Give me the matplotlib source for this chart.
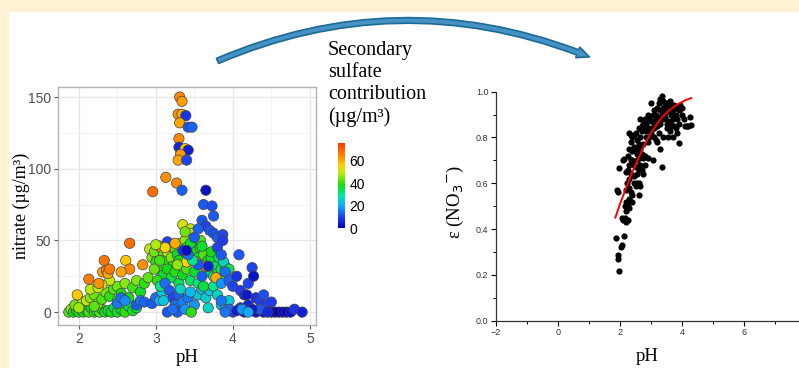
import matplotlib.pyplot as plt
import numpy as np
from matplotlib.patches import Rectangle, FancyArrowPatch
from matplotlib.colors import LinearSegmentedColormap
from matplotlib.ticker import MultipleLocator

# left panel: pH, nitrate (ug/m3), secondary sulfate contribution (ug/m3)
left_pts = [
    # low pH, near zero, green / yellow-green
    (1.87, 0, 42), (1.90, 2, 46), (1.93, 0, 38), (1.97, 1, 40), (2.00, 0, 37), (2.03, 2, 44),
    (2.06, 0, 39), (2.10, 1, 36), (2.13, 0, 41), (2.16, 3, 38), (2.20, 0, 40), (2.23, 1, 35),
    (2.27, 0, 42), (2.30, 2, 37), (2.34, 0, 39), (2.38, 1, 36), (2.42, 0, 38), (2.46, 3, 34),
    (2.50, 0, 36), (2.55, 2, 38), (2.60, 0, 40), (2.65, 4, 34), (2.70, 1, 37), (2.75, 3, 35),
    (1.95, 5, 44), (2.05, 7, 48), (2.10, 8, 50), (2.15, 10, 46), (2.20, 12, 44), (2.25, 6, 47),
    (2.30, 9, 42), (2.35, 14, 45), (2.40, 11, 40), (2.45, 16, 42), (2.50, 18, 44), (2.55, 13, 39),
    (2.60, 20, 46), (2.65, 10, 38), (2.70, 17, 41), (2.75, 22, 45), (2.80, 14, 37), (2.85, 20, 40),
    (2.90, 24, 43), (2.40, 22, 50), (2.30, 19, 52), (2.50, 8, 36), (2.20, 4, 43), (2.00, 3, 47),
    (2.15, 16, 49), (2.25, 17, 50),
    # orange points, low pH
    (1.98, 12, 57), (2.13, 23, 66), (2.26, 20, 63), (2.31, 28, 62), (2.36, 29, 65), (2.38, 27, 60),
    (2.33, 36, 67), (2.61, 36, 57), (2.66, 30, 64), (2.66, 48, 68), (2.83, 33, 63), (2.55, 28, 61),
    (2.40, 30, 66),
    # blue points, lower middle
    (2.50, 6, 15), (2.55, 10, 14), (2.60, 8, 17), (2.75, 5, 12), (2.80, 8, 15), (2.85, 7, 13),
    (2.95, 6, 12), (3.00, 10, 14), (3.05, 8, 20), (3.08, 14, 24),
    # central mixed cluster
    (2.92, 44, 50), (2.95, 38, 46), (2.98, 42, 44), (3.00, 35, 40), (3.02, 30, 38), (3.05, 46, 62),
    (3.08, 44, 64), (3.10, 40, 42), (3.12, 36, 40), (3.15, 42, 52), (3.18, 46, 58), (3.20, 38, 45),
    (3.22, 32, 40), (3.25, 44, 42), (3.28, 40, 36), (3.30, 36, 38), (3.32, 48, 48), (3.35, 61, 52),
    (3.38, 50, 46), (3.40, 45, 40), (3.42, 40, 37), (3.45, 58, 50), (3.48, 55, 52), (3.50, 48, 44),
    (3.52, 42, 38), (3.55, 38, 35), (3.58, 45, 40), (3.60, 34, 30), (3.62, 40, 42), (3.65, 30, 28),
    (3.68, 36, 38), (3.70, 28, 32), (3.72, 38, 36), (3.75, 25, 30), (3.78, 32, 34), (3.80, 27, 38),
    (3.85, 30, 32), (3.88, 22, 28), (3.90, 32, 36), (3.10, 26, 36), (3.15, 30, 38), (3.20, 24, 35),
    (3.25, 28, 39), (3.30, 20, 34), (3.35, 26, 37), (3.40, 30, 42), (3.45, 22, 33), (3.50, 28, 36),
    (3.55, 20, 31), (3.02, 22, 40), (3.06, 18, 30), (3.12, 20, 14), (3.18, 15, 12), (3.22, 10, 10),
    (3.25, 5, 14), (3.28, 0, 12), (3.30, 12, 13), (3.35, 7, 16), (3.38, 2, 18), (3.42, 10, 15),
    (3.50, 5, 18), (3.55, 12, 24), (3.60, 16, 22), (3.65, 10, 25), (3.10, 8, 24), (3.15, 0, 12),
    (3.22, 2, 14), (3.32, 16, 26), (3.45, 14, 22), (3.46, 0, 40), (3.70, 15, 24), (3.75, 18, 30),
    (3.80, 12, 26), (3.85, 5, 22), (3.90, 2, 20), (3.95, 8, 24), (3.68, 3, 26), (3.60, 25, 12),
    (3.62, 18, 35), (3.52, 35, 60), (3.65, 32, 62), (3.78, 24, 60), (3.40, 35, 56), (3.35, 43, 8),
    (3.68, 32, 5), (3.55, 33, 12), (3.48, 36, 30), (3.28, 33, 46), (3.15, 49, 10), (3.58, 50, 42),
    (3.25, 48, 60), (3.12, 45, 55), (3.00, 47, 48), (2.98, 30, 44), (3.05, 36, 41), (3.45, 48, 36),
    (3.38, 56, 44), (3.60, 46, 36), (3.72, 42, 38), (3.82, 38, 34), (3.88, 35, 26), (3.92, 28, 30),
    (3.95, 30, 34), (3.85, 20, 18),
    # blue tail at higher pH
    (3.60, 64, 12), (3.65, 60, 10), (3.70, 57, 12), (3.75, 55, 11), (3.80, 52, 12), (3.87, 54, 10),
    (3.87, 50, 9), (3.62, 75, 12), (3.73, 74, 11), (3.75, 67, 12), (3.55, 58, 13), (3.50, 52, 12),
    (3.42, 40, 14), (3.65, 85, 3), (3.40, 43, 2), (3.80, 45, 10), (3.85, 40, 12), (3.90, 28, 14),
    (3.95, 22, 13), (4.00, 18, 10), (4.05, 25, 8), (4.08, 40, 12), (4.10, 15, 9), (4.15, 12, 7),
    (4.20, 20, 10), (4.25, 31, 10), (4.27, 25, 3), (4.30, 10, 8), (4.35, 8, 9), (4.40, 12, 11),
    (4.45, 5, 10), (4.50, 7, 9), (4.20, 5, 6), (4.10, 3, 8), (4.00, 0, 10), (3.95, 2, 14),
    (4.05, 1, 5), (4.15, 0, 4), (4.30, 0, 3), (4.40, 0, 2), (4.50, 0, 2), (4.55, 0, 1),
    (4.60, 0, 0), (4.65, 0, 2), (4.70, 0, 1), (4.75, 0, 3), (4.80, 2, 8), (4.90, 0, 5),
    (4.35, 2, 12), (4.45, 0, 6), (4.25, 2, 4), (3.85, 8, 15), (3.90, 0, 15), (4.12, 2, 18),
    (4.20, 0, 20), (4.18, 12, 4),
    # high nitrate column
    (3.31, 150, 64), (3.34, 147, 62), (3.29, 138, 63), (3.34, 138, 60), (3.39, 137, 8), (3.31, 132, 61),
    (3.42, 129, 12), (3.47, 129, 13), (3.30, 121, 64), (3.30, 115, 6), (3.38, 114, 57), (3.42, 113, 5),
    (3.32, 110, 62), (3.29, 106, 61), (3.40, 106, 10), (3.13, 94, 63), (3.27, 90, 64), (3.34, 85, 13),
    (2.96, 84, 68),
]
ph_left = [p[0] for p in left_pts]
nitrate = [p[1] for p in left_pts]
sulfate = [p[2] for p in left_pts]

# right panel: pH vs epsilon(NO3-)
right_pts = [
    (1.87, 0.36), (1.92, 0.27), (1.95, 0.285), (1.98, 0.215), (2.02, 0.32), (2.05, 0.33), (2.12, 0.37),
    (1.90, 0.57), (1.95, 0.56), (1.97, 0.665), (2.10, 0.70), (2.12, 0.705),
    (2.05, 0.45), (2.10, 0.44), (2.15, 0.45), (2.20, 0.43), (2.25, 0.44), (2.15, 0.50), (2.20, 0.52),
    (2.25, 0.51), (2.30, 0.53), (2.18, 0.57), (2.22, 0.60), (2.28, 0.62), (2.30, 0.58), (2.35, 0.56),
    (2.40, 0.55), (2.45, 0.60), (2.50, 0.59), (2.55, 0.60), (2.60, 0.60), (2.65, 0.59), (2.20, 0.65),
    (2.25, 0.66), (2.30, 0.68), (2.35, 0.70), (2.40, 0.70), (2.45, 0.68), (2.50, 0.67), (2.55, 0.64),
    (2.60, 0.66), (2.65, 0.68), (2.70, 0.66), (2.75, 0.64), (2.25, 0.72), (2.30, 0.75), (2.35, 0.78),
    (2.40, 0.80), (2.45, 0.81), (2.50, 0.82), (2.55, 0.79), (2.60, 0.77), (2.65, 0.75), (2.70, 0.73),
    (2.75, 0.71), (2.80, 0.72), (2.30, 0.82), (2.35, 0.81), (2.45, 0.76), (2.55, 0.73), (2.60, 0.71),
    (2.65, 0.80), (2.70, 0.83), (2.75, 0.86), (2.80, 0.85), (2.85, 0.80), (2.90, 0.78), (2.95, 0.80),
    (3.00, 0.82), (2.60, 0.84), (2.65, 0.88), (2.70, 0.85), (2.80, 0.88), (2.85, 0.86), (2.90, 0.90),
    (2.95, 0.88), (3.00, 0.87), (3.05, 0.90), (3.10, 0.92), (3.15, 0.90), (3.20, 0.93), (3.25, 0.95),
    (3.30, 0.97), (3.35, 0.98), (3.38, 0.96), (3.40, 0.93), (3.45, 0.94), (3.50, 0.92), (3.55, 0.93),
    (3.60, 0.91), (3.65, 0.90), (3.70, 0.92), (3.75, 0.94), (3.80, 0.90), (3.85, 0.88), (3.90, 0.92),
    (3.95, 0.94), (4.00, 0.90), (3.00, 0.95), (3.05, 0.84), (3.10, 0.86), (3.15, 0.88), (3.20, 0.85),
    (3.25, 0.88), (3.30, 0.86), (3.35, 0.90), (3.40, 0.88), (3.45, 0.89), (3.50, 0.86), (3.55, 0.87),
    (3.60, 0.85), (3.65, 0.86), (3.70, 0.88), (3.75, 0.85), (3.80, 0.84), (3.85, 0.82), (3.90, 0.86),
    (4.05, 0.88), (4.10, 0.85), (4.15, 0.85), (4.20, 0.85), (4.30, 0.855), (4.25, 0.89), (3.90, 0.775),
    (3.35, 0.67), (3.05, 0.70), (3.10, 0.80), (3.15, 0.79), (3.20, 0.78), (3.30, 0.75), (3.40, 0.80),
    (3.50, 0.84), (3.55, 0.80), (3.60, 0.83), (3.70, 0.80), (2.80, 0.68), (2.90, 0.71), (2.75, 0.77),
    (2.50, 0.75), (2.40, 0.74), (3.25, 0.82), (3.45, 0.91), (3.65, 0.94), (3.85, 0.93), (4.00, 0.93),
    (2.95, 0.84), (2.85, 0.83), (3.60, 0.96), (3.50, 0.95), (3.30, 0.92), (3.20, 0.89), (3.10, 0.84),
    (2.55, 0.70), (2.45, 0.63), (2.35, 0.64), (2.20, 0.48), (2.60, 0.55), (2.30, 0.49), (2.40, 0.52),
]
ph_right = [p[0] for p in right_pts]
eps = [p[1] for p in right_pts]

# fitted curve
fit_ph = [1.85, 2.0, 2.2, 2.4, 2.6, 2.8, 3.0, 3.2, 3.4, 3.6, 3.8, 4.0, 4.15, 4.3]
fit_eps = [0.45, 0.51, 0.58, 0.65, 0.71, 0.77, 0.82, 0.86, 0.895, 0.92, 0.94, 0.955, 0.965, 0.972]

serif = ['Liberation Serif', 'DejaVu Serif']
sans = ['Liberation Sans', 'DejaVu Sans']
plt.rcParams['font.family'] = sans

# blue -> cyan -> green -> yellow -> orange -> red, like the colour bar
cmap = LinearSegmentedColormap.from_list('sulf', [
    (0.00, '#0000b0'), (0.12, '#1f3cf0'), (0.27, '#10b0ff'), (0.38, '#00e8a0'),
    (0.50, '#10dc10'), (0.64, '#b4ec10'), (0.74, '#ffd200'), (0.84, '#ff8a00'), (1.00, '#ff3a00')])

W, H = 799, 368
fig = plt.figure(figsize=(W / 100, H / 100), dpi=100, facecolor='#fff2d4')
fig.add_artist(Rectangle((9 / W, 0), 1, 1 - 12 / H, transform=fig.transFigure,
                         facecolor='white', edgecolor='none', zorder=0))

# ---- left scatter (ggplot look)
ax1 = fig.add_axes([58 / W, 1 - 325 / H, 258 / W, 238 / H])
sc = ax1.scatter(ph_left, nitrate, c=sulfate, cmap=cmap, vmin=0, vmax=76,
                 s=55, edgecolors='#444444', linewidths=0.5, zorder=3)
ax1.set_xlim(1.73, 5.08)
ax1.set_ylim(-9, 157)
ax1.set_xticks([2, 3, 4, 5])
ax1.set_yticks([0, 50, 100, 150])
ax1.xaxis.set_minor_locator(MultipleLocator(0.5))
ax1.yaxis.set_minor_locator(MultipleLocator(25))
ax1.grid(True, which='major', color='#e6e6e6', lw=0.9, zorder=0)
ax1.grid(True, which='minor', color='#f2f2f2', lw=0.6, zorder=0)
ax1.tick_params(which='minor', length=0)
ax1.tick_params(which='major', length=3, color='#555555', labelcolor='#4d4d4d', labelsize=10, pad=2)
for sp in ax1.spines.values():
    sp.set_color('#b3b3b3')
    sp.set_linewidth(1.0)
ax1.set_xlabel('pH', family=serif, fontsize=13.5, labelpad=2)
ax1.set_ylabel('nitrate (µg/m³)', family=serif, fontsize=13)
ax1.yaxis.set_label_coords(-0.108, 0.5)

# colorbar
cax = fig.add_axes([338 / W, 1 - 228 / H, 7 / W, 85 / H])
cb = fig.colorbar(sc, cax=cax, ticks=[0, 20, 40, 60])
cb.outline.set_visible(False)
cax.tick_params(length=0, labelsize=10, pad=3)
fig.text(328 / W, 1 - 41 / H, 'Secondary\nsulfate\ncontribution\n(µg/m³)',
         family=serif, fontsize=14.5, va='top', ha='left', linespacing=1.22)

# ---- right scatter (Origin look)
ax2 = fig.add_axes([496 / W, 1 - 320.7 / H, 310 / W, 229 / H])
ax2.scatter(ph_right, eps, s=20, color='black', linewidths=0, zorder=3)
ax2.plot(fit_ph, fit_eps, color='red', lw=1.4, zorder=4)
ax2.set_xlim(-2, 8)
ax2.set_ylim(0, 1.0)
ax2.set_xticks([-2, 0, 2, 4, 6])
ax2.set_yticks(np.arange(0, 1.01, 0.2))
ax2.set_yticklabels(['0.0', '0.2', '0.4', '0.6', '0.8', '1.0'])
ax2.xaxis.set_minor_locator(MultipleLocator(1))
ax2.yaxis.set_minor_locator(MultipleLocator(0.1))
ax2.tick_params(which='major', direction='out', length=3.5, width=0.8, labelsize=6.5,
                labelcolor='#333333', pad=2)
ax2.tick_params(which='minor', direction='out', length=2, width=0.7)
for side in ['top', 'right']:
    ax2.spines[side].set_visible(False)
for side in ['left', 'bottom']:
    ax2.spines[side].set_color('#333333')
    ax2.spines[side].set_linewidth(0.9)
ax2.set_xlabel('pH', family=serif, fontsize=13.5)
ax2.set_ylabel('ε (NO$_3$$^{-}$)', family=serif, fontsize=13.5)
ax2.xaxis.set_label_coords((647 - 496) / 310, -(348 - 320.7) / 229)
ax2.yaxis.set_label_coords(-(496 - 466) / 310, 0.52)

# curved arrow on top
arrow = FancyArrowPatch((215 / W, 1 - 62 / H), (592 / W, 1 - 58 / H), transform=fig.transFigure,
                        connectionstyle='arc3,rad=-0.21',
                        arrowstyle='simple,head_width=8,head_length=9,tail_width=4',
                        facecolor='#4592c4', edgecolor='#1d6a98', linewidth=1.2, zorder=5)
fig.add_artist(arrow)

fig.savefig('out.png', dpi=100)
